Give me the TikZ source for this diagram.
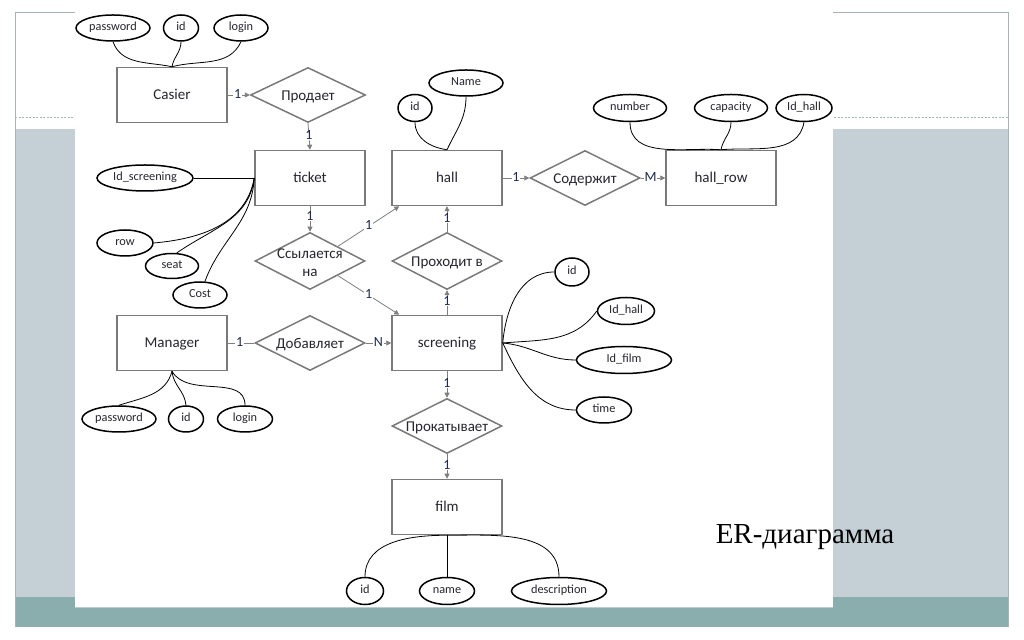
\documentclass[tikz,border=0pt]{standalone}
\usepackage{fontspec}
\usetikzlibrary{shapes.geometric,arrows.meta,calc}
\newfontfamily\calfont{Carlito}
\newfontfamily\ttlfont{Liberation Serif}
\definecolor{boxgray}{HTML}{7A7A7A}
\definecolor{relgray}{HTML}{7F7F7F}
\definecolor{bluegray}{HTML}{C5D0D6}
\definecolor{tealband}{HTML}{8AADAD}
\definecolor{framegray}{HTML}{A7B3B7}
\definecolor{txt}{HTML}{262630}
\definecolor{cardc}{HTML}{1F2A4A}
\tikzset{
  entity/.style={draw=boxgray, line width=1.5pt, fill=white, minimum width=110pt, minimum height=55pt, inner sep=0pt, text=txt, font=\calfont\fontsize{15}{18}\selectfont, text height=0.9em, text depth=0pt},
  reldia/.style={diamond, aspect=2, draw=boxgray, line width=1.5pt, fill=white, minimum width=110pt, minimum height=55pt, inner sep=0pt},
  dtext/.style={text=txt, font=\calfont\fontsize{15}{18}\selectfont, align=center, inner sep=0pt, yshift=-2pt},
  attr/.style={ellipse, draw=black, line width=1.5pt, fill=white, inner sep=0pt, minimum height=26pt, text=txt, font=\calfont\fontsize{12.3}{14}\selectfont, text height=1.45ex, text depth=0.35ex},
  attrline/.style={draw=black, line width=0.8pt},
  rel/.style={draw=relgray, line width=0.8pt},
  tip/.style={-{Triangle[length=5pt,width=5pt]}},
  card/.style={text=cardc, font=\calfont\fontsize{14}{16}\selectfont, fill=white, inner sep=0.8pt, text height=1.4ex, text depth=0ex}
}
\begin{document}
\begin{tikzpicture}[x=1pt,y=1pt]
\useasboundingbox (0,0) rectangle (1024,639);
% slide background
\fill[white] (0,0) rectangle (1024,639);
\fill[bluegray] (15,42) rectangle (1008,510);
\fill[tealband] (15,12) rectangle (1008,42);
\draw[framegray, line width=1pt] (15,12) -- (15,626) -- (1008,626) -- (1008,12);
\draw[framegray, line width=0.6pt, dash pattern=on 2pt off 1.5pt] (15,522) -- (1008,522);
\fill[white] (75,32) rectangle (833,639);
\draw[framegray!70, line width=0.5pt] (75,32) -- (833,32);

% entities
\node[entity] (casier) at (172,544) {Casier};
\node[entity] (ticket) at (310,461) {ticket};
\node[entity] (hall) at (447,461) {hall};
\node[entity] (hallrow) at (721,461) {hall\_row};
\node[entity] (manager) at (172,296) {Manager};
\node[entity] (screening) at (447,296) {screening};
\node[entity] (film) at (447,132) {film};

% relationships
\node[reldia, minimum width=115pt] (prodaet) at (308,544) {};
\node[dtext] at (prodaet) {Продает};
\node[reldia] (soderzh) at (585,461) {};
\node[dtext] at (soderzh) {Содержит};
\node[reldia, minimum height=57pt] (ssyl) at (310,378) {};
\node[dtext, font=\calfont\fontsize{15}{18}\selectfont] at (ssyl) {Ссылается\\на};
\node[reldia, minimum height=57pt] (prohod) at (447,378) {};
\node[dtext] at (prohod) {Проходит в};
\node[reldia] (dobav) at (310,296) {};
\node[dtext] at (dobav) {Добавляет};
\node[reldia] (prokat) at (447,213) {};
\node[dtext] at (prokat) {Прокатывает};

% attributes
\node[attr, minimum width=74pt] (cpw) at (113,611) {password};
\node[attr, minimum width=35pt] (cid) at (181,611) {id};
\node[attr, minimum width=54pt] (clog) at (241,611) {login};

\node[attr, minimum width=96pt] (tids) at (145,461) {Id\_screening};
\node[attr, minimum width=56pt] (trow) at (125,396) {row};
\node[attr, minimum width=53pt, minimum height=25pt] (tseat) at (172,373) {seat};
\node[attr, minimum width=54pt] (tcost) at (200,344) {Cost};

\node[attr, minimum width=34pt, minimum height=27pt] (hid) at (415,531) {id};
\node[attr, minimum width=74pt] (hname) at (466,556) {Name};

\node[attr, minimum width=73pt, minimum height=27pt] (rnum) at (630,531) {number};
\node[attr, minimum width=73pt, minimum height=27pt] (rcap) at (731,531) {capacity};
\node[attr, minimum width=56pt, minimum height=27pt] (rid) at (804,531) {Id\_hall};

\node[attr, minimum width=34pt, minimum height=28pt] (sid) at (572,367) {id};
\node[attr, minimum width=57pt, minimum height=27pt] (sidh) at (626,328) {Id\_hall};
\node[attr, minimum width=95pt, minimum height=27pt] (sidf) at (624,279) {Id\_film};
\node[attr, minimum width=55pt] (stime) at (604,229) {time};

\node[attr, minimum width=74pt] (mpw) at (119,220) {password};
\node[attr, minimum width=35pt] (mid) at (186,220) {id};
\node[attr, minimum width=55pt] (mlog) at (245,220) {login};

\node[attr, minimum width=37pt, minimum height=27pt] (fid) at (365,48) {id};
\node[attr, minimum width=55pt, minimum height=27pt] (fname) at (447,48) {name};
\node[attr, minimum width=95pt, minimum height=27pt] (fdesc) at (559,48) {description};

% attribute connectors
\draw[attrline] (cpw.south) to[out=-70,in=168] (casier.north);
\draw[attrline] (cid.south) to[out=-90,in=80] (casier.north);
\draw[attrline] (clog.south) to[out=-115,in=15] (casier.north);

\draw[attrline] (tids.east) -- (ticket.west);
\draw[attrline] (trow.east) to[out=5,in=-100] (ticket.west);
\draw[attrline] (tseat.70) to[out=35,in=-97] (ticket.west);
\draw[attrline] (tcost.70) to[out=70,in=-93] (ticket.west);

\draw[attrline] (hid.south) to[out=-90,in=172] (hall.north);
\draw[attrline] (hname.south) to[out=-90,in=65] (hall.north);

\draw[attrline] (rnum.south) to[out=-90,in=176] (hallrow.north);
\draw[attrline] (rcap.south) to[out=-90,in=80] (hallrow.north);
\draw[attrline] (rid.south) to[out=-100,in=5] (hallrow.north);

\draw[attrline] (screening.east) to[out=85,in=180] (sid.west);
\draw[attrline] (screening.east) to[out=5,in=-125] (sidh.west);
\draw[attrline] (screening.east) to[out=-5,in=180] (sidf.west);
\draw[attrline] (screening.east) to[out=-65,in=180] (stime.west);

\draw[attrline] (manager.south) to[out=-105,in=18] (mpw.north);
\draw[attrline] (manager.south) to[out=-85,in=95] (mid.north);
\draw[attrline] (manager.south) to[out=-60,in=90] (mlog.north);

\draw[attrline] (film.south) to[out=180,in=90] (fid.north);
\draw[attrline] (film.south) -- (fname.north);
\draw[attrline] (film.south) to[out=0,in=90] (fdesc.north);

% relationship connectors
\draw[rel, tip] (casier.east) -- node[card, pos=.45]{1} (prodaet.west);
\draw[rel, tip] (prodaet.south) -- node[card]{1} (ticket.north);
\draw[rel, tip] (ticket.south) -- node[card, pos=.43]{1} (ssyl.north);
\draw[rel, tip] (ssyl.north east) -- node[card]{1} ($(hall.south west)+(8,0)$);
\draw[rel, tip] (ssyl.south east) -- node[card]{1} ($(screening.north west)+(8,0)$);
\draw[rel, tip] (hall.east) -- node[card]{1} (soderzh.west);
\draw[rel, tip] (soderzh.east) -- node[card, pos=.4]{M} (hallrow.west);
\draw[rel, tip] (prohod.north) -- node[card]{1} (hall.south);
\draw[rel, tip] (screening.north) -- node[card]{1} (prohod.south);
\draw[rel] (manager.east) -- node[card, pos=.45]{1} (dobav.west);
\draw[rel, tip] (dobav.east) -- node[card]{N} (screening.west);
\draw[rel, tip] (screening.south) -- node[card]{1} (prokat.north);
\draw[rel, tip] (prokat.south) -- node[card]{1} (film.north);

% title
\node[font=\ttlfont\fontsize{29}{34}\selectfont, text=black, inner sep=0pt] (title) at (805,102) {ER-диаграмма};
\end{tikzpicture}
\end{document}
